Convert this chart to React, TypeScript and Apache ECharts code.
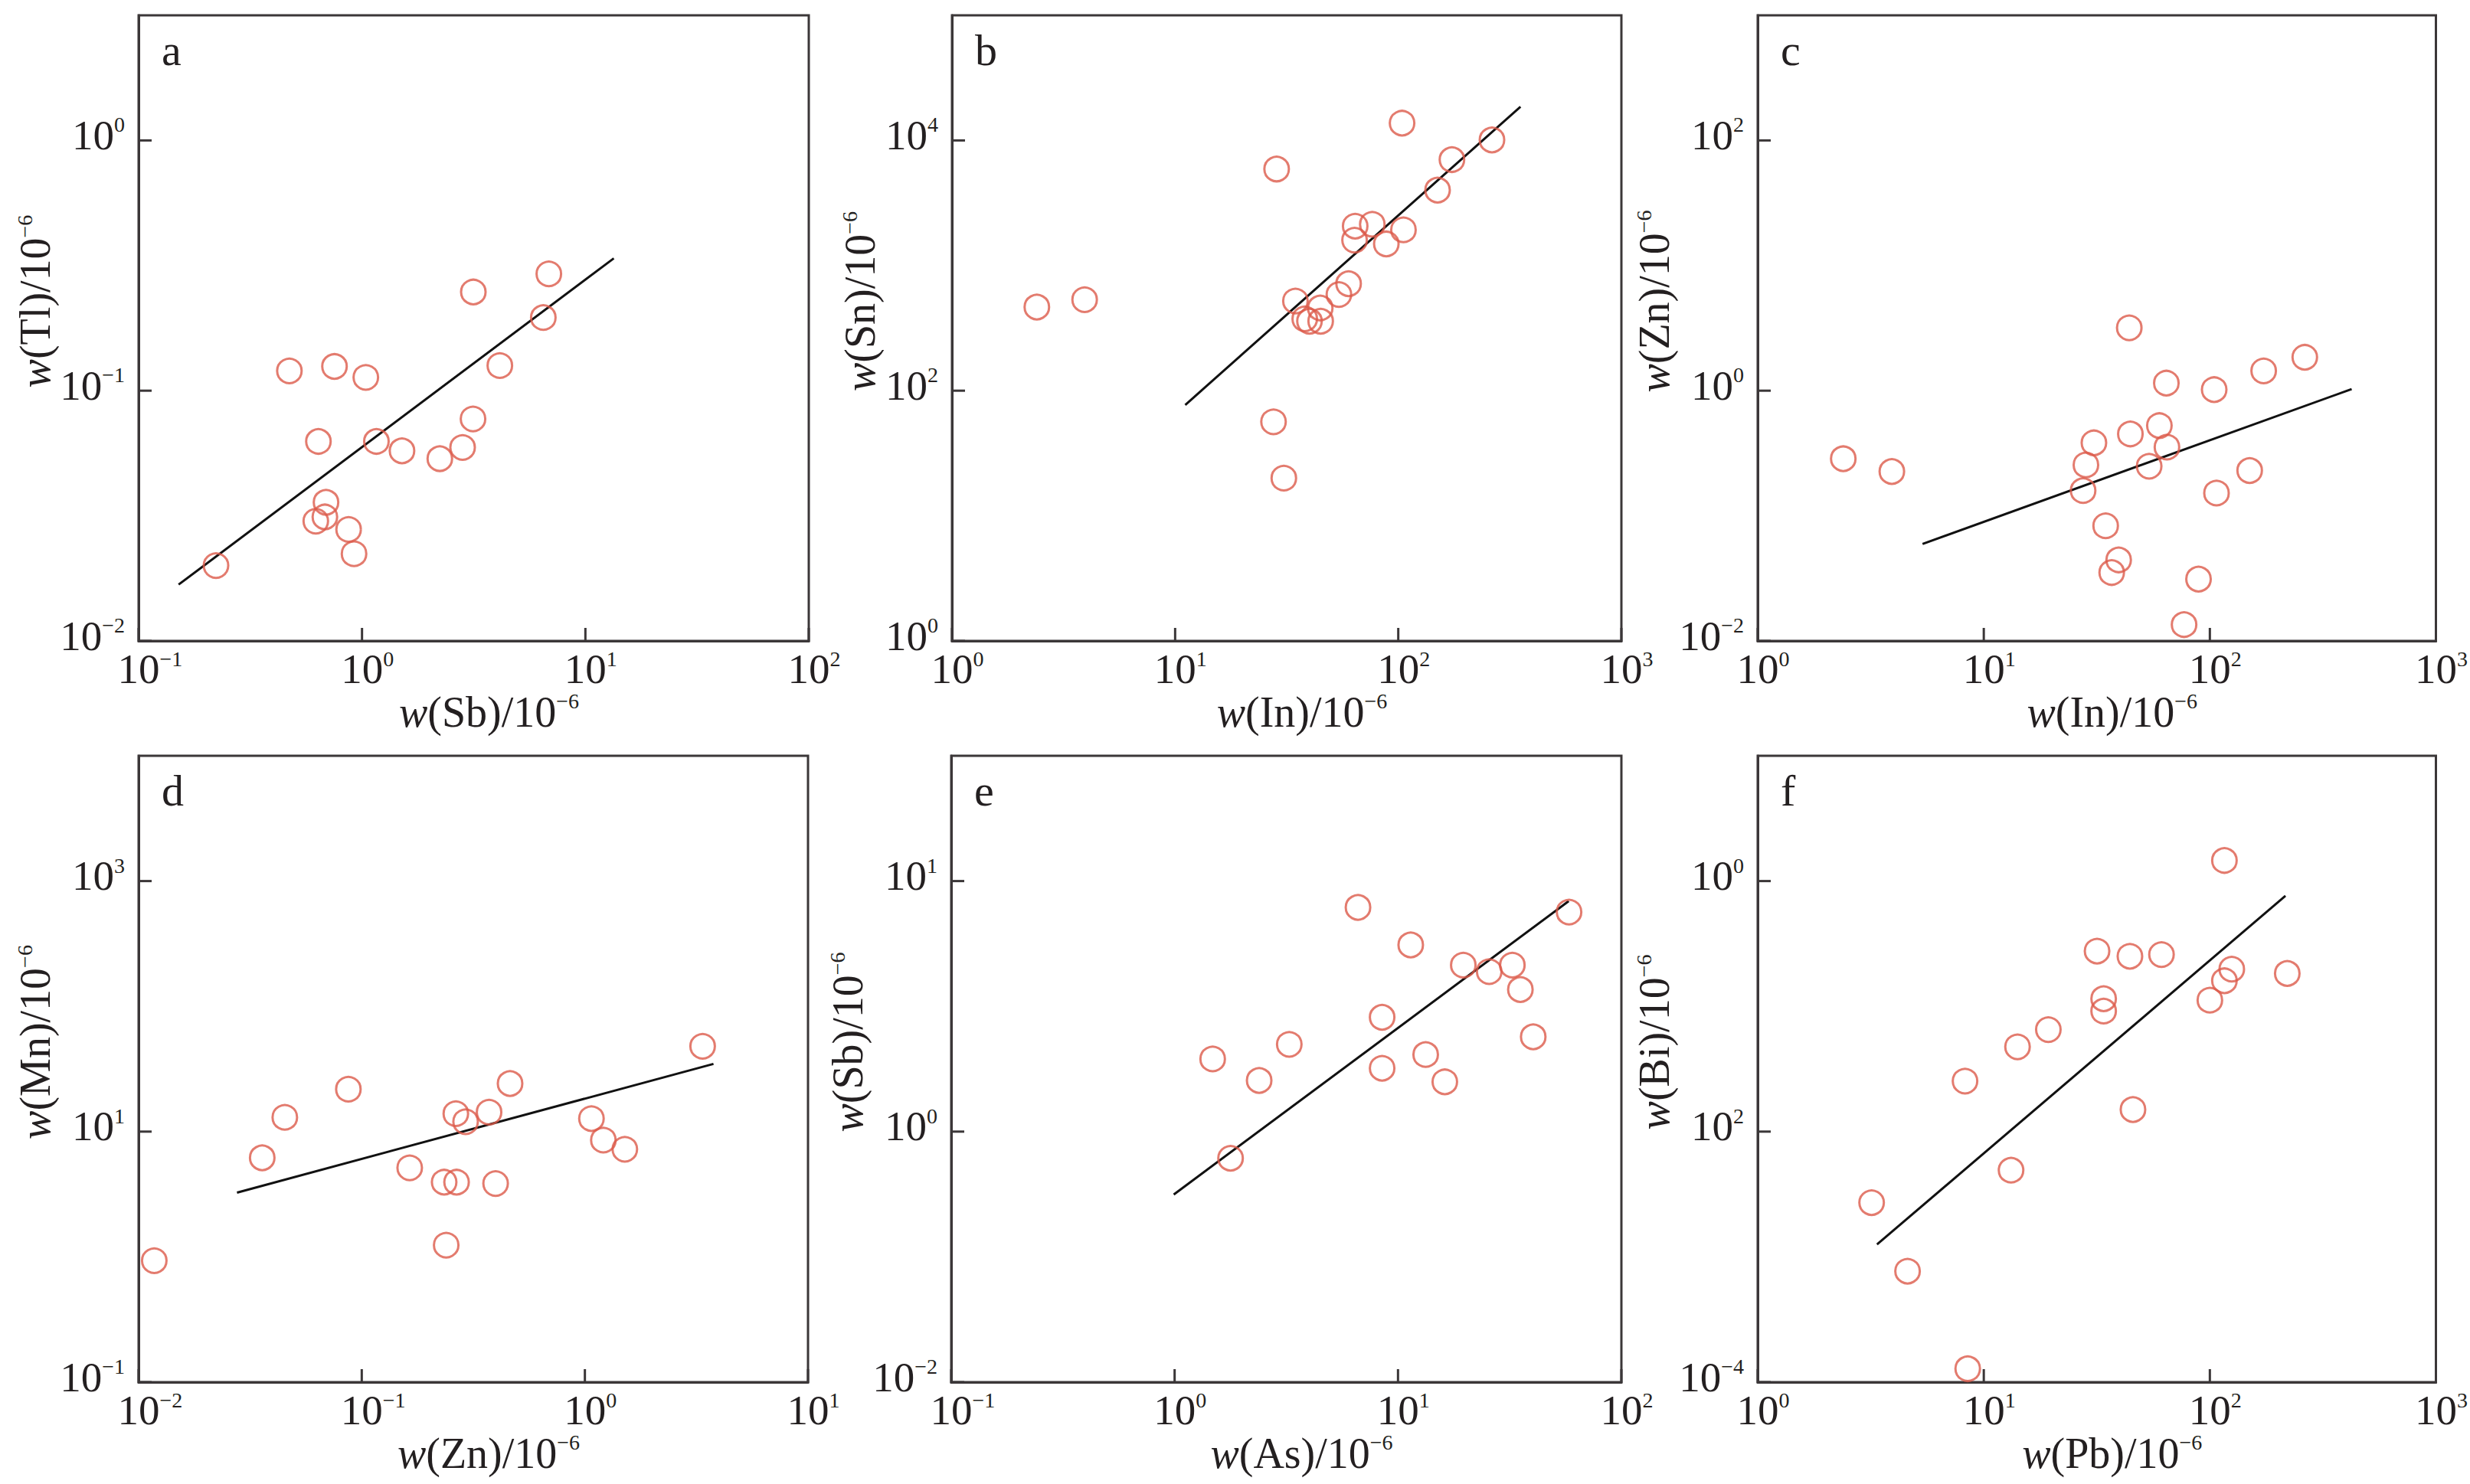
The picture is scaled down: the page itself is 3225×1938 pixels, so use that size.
import React, { useEffect, useRef } from "react";
import * as echarts from "echarts";

const FONT = '"Liberation Serif", "Times New Roman", serif';
const RED = "#DC5A4A";
const INK = "#231f20";
const FRAME = "#3b3738";

// ---------- panel a: Sb vs Tl ----------
const aSb = [0.222, 0.473, 0.753, 1.04, 0.638, 1.16, 1.51, 2.23, 2.82, 3.14, 3.15, 6.86, 6.48, 4.14, 0.69, 0.682, 0.621, 0.871, 0.921];
const aTl = [0.02, 0.12, 0.125, 0.113, 0.0627, 0.0627, 0.0575, 0.0535, 0.0593, 0.0771, 0.248, 0.293, 0.196, 0.126, 0.0358, 0.0313, 0.0301, 0.0279, 0.0223];
const aFitX = [0.151, 13.4];
const aFitY = [0.0168, 0.338];

// ---------- panel b: In vs Sn ----------
const bIn = [2.4, 3.93, 28.5, 27.6, 30.7, 34.6, 38.1, 40.0, 44.7, 44.9, 54.2, 59.9, 64.1, 63.7, 76.5, 88.4, 105.5, 104, 150, 174, 263];
const bSn = [466, 534, 5910, 56.4, 20.0, 521, 375, 359, 458, 359, 587, 716, 2066, 1596, 2138, 1489, 1929, 13750, 4011, 7025, 10090];
const bFitX = [11.1, 353];
const bFitY = [76.9, 18600];

// ---------- panel c: In vs Zn ----------
const cIn = [2.39, 3.92, 44.0, 30.7, 28.3, 27.5, 34.6, 39.5, 36.8, 44.5, 53.9, 59.8, 64.6, 64.2, 104.5, 107, 89.1, 76.9, 150, 173, 263];
const cZn = [0.286, 0.226, 3.18, 0.383, 0.255, 0.159, 0.0832, 0.0444, 0.0352, 0.451, 0.249, 0.526, 0.354, 1.15, 1.02, 0.152, 0.0312, 0.0135, 0.23, 1.44, 1.85];
const cFitX = [5.36, 424];
const cFitY = [0.0596, 1.03];

// ---------- panel d: Zn vs Mn ----------
const dZn = [0.01175, 0.0358, 0.0452, 0.0871, 0.164, 0.234, 0.266, 0.239, 0.264, 0.292, 0.372, 0.398, 0.462, 1.07, 1.21, 1.51, 3.37];
const dMn = [0.933, 6.18, 13.0, 21.8, 5.14, 3.95, 3.95, 1.24, 13.9, 12.0, 14.3, 3.85, 24.2, 12.7, 8.55, 7.23, 48.0];
const dFitX = [0.0276, 3.77];
const dFitY = [3.26, 34.7];

// ---------- panel e: As vs Sb ----------
const eAs = [1.48, 1.78, 2.39, 3.26, 6.62, 8.49, 8.49, 11.4, 13.3, 16.2, 19.6, 25.6, 32.5, 35.3, 40.3, 58.3];
const eSb = [1.95, 0.783, 1.6, 2.23, 7.85, 2.86, 1.79, 5.56, 2.03, 1.58, 4.62, 4.35, 4.62, 3.69, 2.39, 7.52];
const eFitX = [0.991, 58.1];
const eFitY = [0.561, 8.32];

// ---------- panel f: Pb vs Bi ----------
const fPb = [3.19, 4.6, 8.49, 8.26, 13.2, 14.1, 19.3, 31.7, 33.9, 33.9, 44.3, 45.7, 61.1, 100, 116, 125, 116, 220];
const fBi = [0.00271, 0.000769, 0.000128, 0.0253, 0.00492, 0.0475, 0.0652, 0.276, 0.115, 0.0916, 0.251, 0.015, 0.259, 0.112, 0.16, 0.198, 1.46, 0.183];
const fFitX = [3.37, 216];
const fFitY = [0.001256, 0.762];

// ---------- tick exponents and their printed superscripts ----------
const xExpA = [-1, 0, 1, 2];
const xSupA = ["\u22121", "0", "1", "2"];
const xExpB = [0, 1, 2, 3];
const xSupB = ["0", "1", "2", "3"];
const xExpD = [-2, -1, 0, 1];
const xSupD = ["\u22122", "\u22121", "0", "1"];

const yExpA = [-2, -1, 0];
const ySupA = ["\u22122", "\u22121", "0"];
const yExpB = [0, 2, 4];
const ySupB = ["0", "2", "4"];
const yExpC = [-2, 0, 2];
const ySupC = ["\u22122", "0", "2"];
const yExpD = [-1, 1, 3];
const ySupD = ["\u22121", "1", "3"];
const yExpE = [-1, 0, 1];
const ySupE = ["\u22122", "0", "1"];
const yExpF = [-4, -2, 0];
const ySupF = ["\u22124", "2", "0"];

const letters = ["a", "b", "c", "d", "e", "f"];
const xElements = ["Sb", "In", "In", "Zn", "As", "Pb"];
const yElements = ["Tl", "Sn", "Zn", "Mn", "Sb", "Bi"];

type Panel = {
  xs: number[]; ys: number[]; fx: number[]; fy: number[];
  xMin: number; xMax: number; xExp: number[]; xSup: string[];
  yMin: number; yMax: number; yInt: number; yExp: number[]; ySup: string[];
};

const panels: Panel[] = [
  { xs: aSb, ys: aTl, fx: aFitX, fy: aFitY, xMin: -1, xMax: 2, xExp: xExpA, xSup: xSupA, yMin: -2, yMax: 0.5, yInt: 1, yExp: yExpA, ySup: ySupA },
  { xs: bIn, ys: bSn, fx: bFitX, fy: bFitY, xMin: 0, xMax: 3, xExp: xExpB, xSup: xSupB, yMin: 0, yMax: 5, yInt: 2, yExp: yExpB, ySup: ySupB },
  { xs: cIn, ys: cZn, fx: cFitX, fy: cFitY, xMin: 0, xMax: 3, xExp: xExpB, xSup: xSupB, yMin: -2, yMax: 3, yInt: 2, yExp: yExpC, ySup: ySupC },
  { xs: dZn, ys: dMn, fx: dFitX, fy: dFitY, xMin: -2, xMax: 1, xExp: xExpD, xSup: xSupD, yMin: -1, yMax: 4, yInt: 2, yExp: yExpD, ySup: ySupD },
  { xs: eAs, ys: eSb, fx: eFitX, fy: eFitY, xMin: -1, xMax: 2, xExp: xExpA, xSup: xSupA, yMin: -1, yMax: 1.5, yInt: 1, yExp: yExpE, ySup: ySupE },
  { xs: fPb, ys: fBi, fx: fFitX, fy: fFitY, xMin: 0, xMax: 3, xExp: xExpB, xSup: xSupB, yMin: -4, yMax: 1, yInt: 2, yExp: yExpF, ySup: ySupF },
];

const grids = [
  { left: 181, top: 20, width: 875, height: 817 },
  { left: 1243, top: 20, width: 874, height: 817 },
  { left: 2295, top: 20, width: 886, height: 817 },
  { left: 181, top: 987, width: 874, height: 818 },
  { left: 1242, top: 987, width: 875, height: 818 },
  { left: 2295, top: 987, width: 886, height: 818 },
];

const TICK_LEN = 17;

const labelRich = {
  b: { fontFamily: FONT, fontSize: 55, color: INK, verticalAlign: "bottom" },
  s: { fontFamily: FONT, fontSize: 28, color: INK, verticalAlign: "top" },
  g: { fontFamily: FONT, fontSize: 28, color: "transparent", verticalAlign: "top" },
};

const nameRich = {
  i: { fontFamily: FONT, fontSize: 56, fontStyle: "italic", color: INK, verticalAlign: "bottom" },
  n: { fontFamily: FONT, fontSize: 56, color: INK, verticalAlign: "bottom" },
  s: { fontFamily: FONT, fontSize: 28, color: INK, verticalAlign: "top" },
};

const frameLine = { show: true, onZero: false, lineStyle: { color: FRAME, width: 3 } };

function findSup(v: number, exps: number[], sups: string[]): string | null {
  for (let k = 0; k < exps.length; k++) {
    if (Math.abs(v - exps[k]) < 1e-6) return sups[k];
  }
  return null;
}

function letterGraphics() {
  return panels.map((_p, i) => ({
    type: "text",
    left: grids[i].left + 30,
    top: grids[i].top + 16,
    style: { text: letters[i], font: `58px ${FONT}`, fill: INK },
  }));
}

function buildOption() {
  const L = Math.log10;
  const xAxis: any[] = [];
  const yAxis: any[] = [];
  const series: any[] = [];

  panels.forEach((p, i) => {
    xAxis.push({
      type: "value",
      gridIndex: i,
      position: "bottom",
      min: p.xMin,
      max: p.xMax,
      interval: 1,
      axisLine: frameLine,
      axisTick: { show: false },
      splitLine: { show: false },
      axisLabel: {
        margin: 9,
        formatter: (v: number) => {
          const s = findSup(v, p.xExp, p.xSup);
          return s == null ? "" : `{g|${s}}{b|10}{s|${s}}`;
        },
        rich: labelRich,
      },
      name: `{i|w}{n|(${xElements[i]})/10}{s|\u22126}`,
      nameLocation: "middle",
      nameGap: 58,
      nameTextStyle: { rich: nameRich, padding: [0, 0, 0, 40] },
    });
    yAxis.push({
      type: "value",
      gridIndex: i,
      position: "left",
      min: p.yMin,
      max: p.yMax,
      interval: p.yInt,
      axisLine: frameLine,
      axisTick: { show: false },
      splitLine: { show: false },
      axisLabel: {
        margin: 18,
        padding: [0, 0, 14, 0],
        formatter: (v: number) => {
          const s = findSup(v, p.yExp, p.ySup);
          return s == null ? "" : `{b|10}{s|${s}}`;
        },
        rich: labelRich,
      },
      name: `{i|w}{n|(${yElements[i]})/10}{s|\u22126}`,
      nameLocation: "middle",
      nameGap: 92,
      nameTextStyle: { rich: nameRich, padding: [0, 0, 0, 70] },
    });
    series.push({
      type: "scatter",
      xAxisIndex: i,
      yAxisIndex: i,
      symbol: "circle",
      symbolSize: 32,
      itemStyle: { color: "transparent", borderColor: RED, borderWidth: 3 },
      data: p.xs.map((x, k) => [L(x), L(p.ys[k])]),
      z: 3,
    });
    series.push({
      type: "line",
      xAxisIndex: i,
      yAxisIndex: i,
      symbol: "none",
      lineStyle: { color: "#111111", width: 3 },
      data: p.fx.map((x, k) => [L(x), L(p.fy[k])]),
      z: 2,
    });
  });

  return {
    animation: false,
    backgroundColor: "#ffffff",
    grid: grids.map((g) => ({ ...g, show: true, borderColor: FRAME, borderWidth: 3, backgroundColor: "transparent", containLabel: false })),
    xAxis,
    yAxis,
    series,
    graphic: letterGraphics(),
  };
}

// inward tick marks, positioned through each panel's own axes
function tickGraphics(chart: echarts.ECharts) {
  const els: any[] = [];
  panels.forEach((p, i) => {
    const finder = { gridIndex: i };
    p.xExp.forEach((e) => {
      const pt = chart.convertToPixel(finder as any, [e, p.yMin]) as number[];
      if (!pt) return;
      els.push({
        type: "line",
        z: 50,
        silent: true,
        shape: { x1: pt[0], y1: pt[1], x2: pt[0], y2: pt[1] - TICK_LEN },
        style: { stroke: FRAME, lineWidth: 3 },
      });
    });
    p.yExp.forEach((e) => {
      const pt = chart.convertToPixel(finder as any, [p.xMin, e]) as number[];
      if (!pt) return;
      els.push({
        type: "line",
        z: 50,
        silent: true,
        shape: { x1: pt[0], y1: pt[1], x2: pt[0] + TICK_LEN, y2: pt[1] },
        style: { stroke: FRAME, lineWidth: 3 },
      });
    });
  });
  return els;
}

export default function App() {
  const ref = useRef<HTMLDivElement>(null);
  useEffect(() => {
    if (!ref.current) return;
    const chart = echarts.init(ref.current, null, { renderer: "svg" });
    chart.setOption(buildOption() as any);
    chart.setOption({ graphic: [...letterGraphics(), ...tickGraphics(chart)] } as any);
    return () => chart.dispose();
  }, []);
  return (
    <div
      ref={ref}
      style={{ position: "absolute", left: 0, top: 0, width: 3225, height: 1938, background: "#ffffff" }}
    />
  );
}
